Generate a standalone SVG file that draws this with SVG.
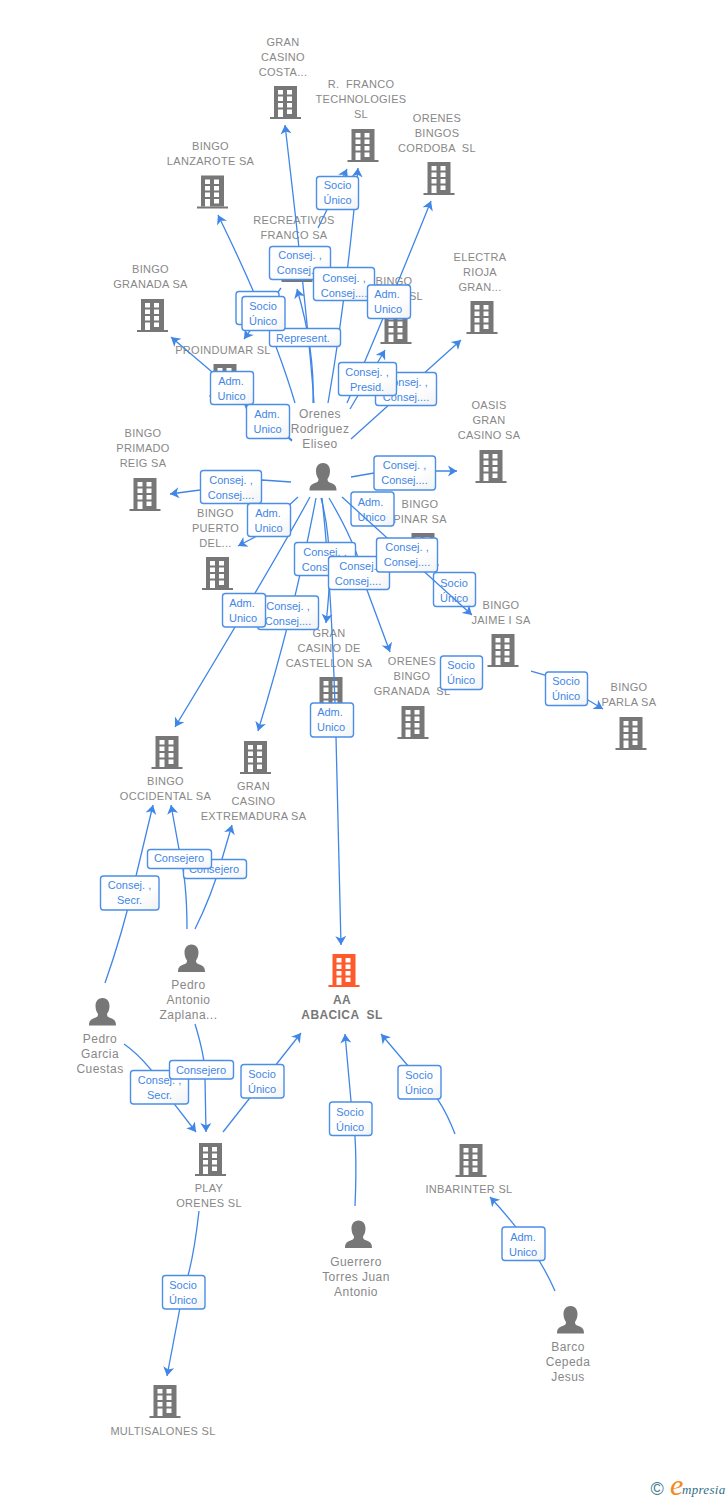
<svg xmlns="http://www.w3.org/2000/svg" width="728" height="1500" viewBox="0 0 728 1500">
<style>
text{font-family:"Liberation Sans",Arial,sans-serif;white-space:pre}
.n{font-size:11px;fill:#888;text-anchor:middle;letter-spacing:.3px}
.m{font-size:12px;font-weight:bold;fill:#777;letter-spacing:.4px}
.p{font-size:12px;fill:#888;text-anchor:middle;letter-spacing:.45px}
.e{fill:none;stroke:#3f86e6;stroke-width:1.3;marker-end:url(#a)}
.b{fill:url(#g);stroke:#4a8ee8;stroke-width:1.4}
.l{font-size:11px;fill:#3f86e6;text-anchor:middle}
</style>
<defs>
<linearGradient id="g" x1="0" y1="0" x2="1" y2="1"><stop offset="0" stop-color="#fff"/><stop offset=".6" stop-color="#fff"/><stop offset="1" stop-color="#f1f2f4"/></linearGradient>
<marker id="a" markerUnits="userSpaceOnUse" markerWidth="14" markerHeight="14" refX="10" refY="7" orient="auto"><path d="M10,7 L1,1.500 L3.500,7 L1,12.500 Z" fill="#3f86e6"/></marker>
<symbol id="bd" overflow="visible"><path fill-rule="evenodd" d="M-11.500,-33H11.500V-2H-11.500ZM-7.500,-29V-24.500H-2.500V-29ZM1.500,-29V-24.500H6.500V-29ZM-7.500,-22.500V-18H-2.500V-22.500ZM1.500,-22.500V-18H6.500V-22.500ZM-7.500,-16V-11.500H-2.500V-16ZM1.500,-16V-11.500H6.500V-16ZM-7.500,-9.500V-2H-2.500V-9.500ZM1.500,-9.500V-5H6.500V-9.500Z"/><rect x="-15.500" y="-2" width="31" height="2"/></symbol>
<symbol id="pr" overflow="visible"><path d="M0,0C-5,0 -7,4 -7,8C-7,11 -6,14 -4.500,16C-4.500,18 -5,19 -8,20C-12,21.500 -13.500,23 -13.500,27.500H13.500C13.500,23 12,21.500 8,20C5,19 4.500,18 4.500,16C6,14 7,11 7,8C7,4 5,0 0,0Z"/></symbol>
</defs>
<g id="nodes" fill="#777">
<g id="n-costa"><use href="#bd" x="285.500" y="119"/><text class="n" x="283" y="46">GRAN<tspan x="283" dy="15">CASINO</tspan><tspan x="283" dy="15">COSTA...</tspan></text></g>
<g id="n-franco"><use href="#bd" x="363" y="162"/><text class="n" x="361" y="88">R.  FRANCO<tspan x="361" dy="15">TECHNOLOGIES</tspan><tspan x="361" dy="15">SL</tspan></text></g>
<g id="n-cordoba"><use href="#bd" x="439" y="195"/><text class="n" x="437" y="122">ORENES<tspan x="437" dy="15">BINGOS</tspan><tspan x="437" dy="15">CORDOBA  SL</tspan></text></g>
<g id="n-lanzarote"><use href="#bd" x="212.500" y="208.500"/><text class="n" x="210.500" y="150">BINGO<tspan x="210.500" dy="15">LANZAROTE SA</tspan></text></g>
<g id="n-recreativos"><use href="#bd" x="297" y="282"/><text class="n" x="294" y="224">RECREATIVOS<tspan x="294" dy="15">FRANCO SA</tspan></text></g>
<g id="n-granada"><use href="#bd" x="152.500" y="332"/><text class="n" x="150.500" y="273">BINGO<tspan x="150.500" dy="15">GRANADA SA</tspan></text></g>
<g id="n-electra"><use href="#bd" x="482" y="334"/><text class="n" x="480" y="261">ELECTRA<tspan x="480" dy="15">RIOJA</tspan><tspan x="480" dy="15">GRAN...</tspan></text></g>
<g id="n-bingosl"><use href="#bd" x="396" y="344"/><text class="n" x="394" y="285">BINGO<tspan x="416" dy="15">SL</tspan></text></g>
<g id="n-proindumar"><use href="#bd" x="225" y="397"/><text class="n" x="223" y="354">PROINDUMAR SL</text></g>
<g id="n-oasis"><use href="#bd" x="491" y="483"/><text class="n" x="489" y="409">OASIS<tspan x="489" dy="15">GRAN</tspan><tspan x="489" dy="15">CASINO SA</tspan></text></g>
<g id="n-primado"><use href="#bd" x="145" y="511"/><text class="n" x="143" y="437">BINGO<tspan x="143" dy="15">PRIMADO</tspan><tspan x="143" dy="15">REIG SA</tspan></text></g>
<g id="n-puerto"><use href="#bd" x="217.500" y="590"/><text class="n" x="215.500" y="517">BINGO<tspan x="215.500" dy="15">PUERTO</tspan><tspan x="215.500" dy="15">DEL...</tspan></text></g>
<g id="n-pinar"><use href="#bd" x="423" y="566"/><text class="n" x="420" y="508">BINGO<tspan x="420" dy="15">PINAR SA</tspan></text></g>
<g id="n-jaime"><use href="#bd" x="503" y="667"/><text class="n" x="501" y="609">BINGO<tspan x="501" dy="15">JAIME I SA</tspan></text></g>
<g id="n-parla"><use href="#bd" x="631" y="750"/><text class="n" x="629" y="691">BINGO<tspan x="629" dy="15">PARLA SA</tspan></text></g>
<g id="n-castellon"><use href="#bd" x="331" y="710"/><text class="n" x="329" y="637">GRAN<tspan x="329" dy="15">CASINO DE</tspan><tspan x="329" dy="15">CASTELLON SA</tspan></text></g>
<g id="n-orenesgranada"><use href="#bd" x="413" y="739"/><text class="n" x="412" y="665">ORENES<tspan x="412" dy="15">BINGO</tspan><tspan x="412" dy="15">GRANADA  SL</tspan></text></g>
<g id="n-occidental"><use href="#bd" x="167" y="769"/><text class="n" x="165.500" y="785">BINGO<tspan x="165.500" dy="15">OCCIDENTAL SA</tspan></text></g>
<g id="n-extremadura"><use href="#bd" x="255.500" y="774"/><text class="n" x="253.500" y="790">GRAN<tspan x="253.500" dy="15">CASINO</tspan><tspan x="253.500" dy="15">EXTREMADURA SA</tspan></text></g>
<g id="n-aa"><use href="#bd" x="344" y="987" fill="#ff5a2b"/><text class="n m" x="342" y="1004">AA<tspan x="342" dy="15">ABACICA  SL</tspan></text></g>
<g id="n-play"><use href="#bd" x="210.500" y="1176"/><text class="n" x="209" y="1192">PLAY<tspan x="209" dy="15">ORENES SL</tspan></text></g>
<g id="n-inbarinter"><use href="#bd" x="471" y="1177"/><text class="n" x="469" y="1193">INBARINTER SL</text></g>
<g id="n-multisalones"><use href="#bd" x="165" y="1418"/><text class="n" x="163" y="1435">MULTISALONES SL</text></g>
<g id="n-orenes"><use href="#pr" x="323" y="463"/><text class="p" x="320" y="418">Orenes<tspan x="320" dy="15">Rodriguez</tspan><tspan x="320" dy="15">Eliseo</tspan></text></g>
<g id="n-zaplana"><use href="#pr" x="191.500" y="944.500"/><text class="p" x="188.500" y="989">Pedro<tspan x="188.500" dy="15">Antonio</tspan><tspan x="188.500" dy="15">Zaplana...</tspan></text></g>
<g id="n-cuestas"><use href="#pr" x="102.500" y="998"/><text class="p" x="100" y="1043">Pedro<tspan x="100" dy="15">Garcia</tspan><tspan x="100" dy="15">Cuestas</tspan></text></g>
<g id="n-guerrero"><use href="#pr" x="358.500" y="1220.500"/><text class="p" x="356" y="1266">Guerrero<tspan x="356" dy="15">Torres Juan</tspan><tspan x="356" dy="15">Antonio</tspan></text></g>
<g id="n-barco"><use href="#pr" x="570.500" y="1306"/><text class="p" x="568" y="1351">Barco<tspan x="568" dy="15">Cepeda</tspan><tspan x="568" dy="15">Jesus</tspan></text></g>
</g>
<g id="connectors">
<path class="e" d="M314,403Q309,330 285,125"/>
<path class="e" d="M318,228L347,169"/>
<path class="e" d="M328,403Q346,300 358,168"/>
<path class="e" d="M347,403Q383,320 431,201"/>
<path class="e" d="M351,439Q400,395 461,340"/>
<path class="e" d="M350,409L385,350"/>
<path class="e" d="M313,403Q315,350 297,289"/>
<path class="e" d="M295,403Q272,325 218,215"/>
<path class="e" d="M281,288L244,339"/>
<path class="e" d="M292,440L171,337"/>
<path class="e" d="M292,441L244,404"/>
<path class="e" d="M351,477L374,473L436,471L457,471"/>
<path class="e" d="M291,482L262,480L200,490L170,494"/>
<path class="e" d="M298,497L255,537L238,546"/>
<path class="e" d="M310,497Q270,570 175,727"/>
<path class="e" d="M316,498Q295,610 258,731"/>
<path class="e" d="M321,498Q335,550 326,623"/>
<path class="e" d="M322,498Q332,590 336,737L341,945"/>
<path class="e" d="M329,498Q360,550 367,590L390,652"/>
<path class="e" d="M531,671L545,675L588,700L603,709"/>
<path class="e" d="M105,983Q122,935 136,876L153,805"/>
<path class="e" d="M187,929Q187,880 179,849L171,805"/>
<path class="e" d="M195,929Q212,895 222,859L232,825"/>
<path class="e" d="M124,1044Q150,1062 175,1105L196,1132"/>
<path class="e" d="M195,1024Q206,1060 205,1079L206,1132"/>
<path class="e" d="M223,1132L301,1033"/>
<path class="e" d="M355,1206Q358,1140 351,1101L345,1034"/>
<path class="e" d="M455,1134Q440,1095 420,1080L381,1034"/>
<path class="e" d="M555,1291Q535,1245 490,1197"/>
<path class="e" d="M199,1211Q193,1265 183,1292L167,1376"/>
</g>
<g id="edge-labels">
<g><rect class="b" x="316.500" y="176.500" width="42" height="33" rx="3"/><text class="l" x="337.500" y="189">Socio<tspan x="337.500" dy="15">Único</tspan></text></g>
<g><rect class="b" x="269.500" y="246.500" width="61" height="33" rx="3"/><text class="l" x="300" y="259">Consej. ,<tspan x="300" dy="15">Consej....</tspan></text></g>
<g><rect class="b" x="313.500" y="267.500" width="61" height="33" rx="3"/><text class="l" x="344" y="282">Consej. ,<tspan x="344" dy="15">Consej....</tspan></text></g>
<g><rect class="b" x="367.500" y="285" width="43" height="33.500" rx="3"/><text class="l" x="387" y="298">Adm.<tspan x="388" dy="15">Unico</tspan></text></g>
<g><rect class="b" x="236" y="291.500" width="43" height="33" rx="3"/></g>
<g><rect class="b" x="269.500" y="328.500" width="71" height="18" rx="3"/><text class="l" x="303" y="342">Represent.</text></g>
<g><rect class="b" x="242" y="296.500" width="43" height="34" rx="3"/><text class="l" x="263" y="310">Socio<tspan x="263" dy="15">Único</tspan></text></g>
<g><rect class="b" x="375.500" y="372.500" width="61" height="33" rx="3"/><text class="l" x="406" y="386">Consej. ,<tspan x="406" dy="15">Consej....</tspan></text></g>
<g><rect class="b" x="338.500" y="362.500" width="58" height="33" rx="3"/><text class="l" x="367" y="376">Consej. ,<tspan x="367" dy="15">Presid.</tspan></text></g>
<g><rect class="b" x="210.500" y="371.500" width="43" height="33" rx="3"/><text class="l" x="231" y="385">Adm.<tspan x="231.500" dy="15">Unico</tspan></text></g>
<g><rect class="b" x="246.500" y="404.500" width="43" height="34" rx="3"/><text class="l" x="267" y="418">Adm.<tspan x="267.500" dy="15">Unico</tspan></text></g>
<g><rect class="b" x="374" y="456" width="61.500" height="34" rx="3"/><text class="l" x="404.500" y="469">Consej. ,<tspan x="404.500" dy="15">Consej....</tspan></text></g>
<g><rect class="b" x="200.500" y="470.500" width="61" height="33" rx="3"/><text class="l" x="231" y="484">Consej. ,<tspan x="231" dy="15">Consej....</tspan></text></g>
<g><rect class="b" x="247.500" y="503.500" width="43" height="33" rx="3"/><text class="l" x="268" y="517">Adm.<tspan x="268.500" dy="15">Unico</tspan></text></g>
<g><rect class="b" x="351" y="492" width="43" height="34" rx="3"/><text class="l" x="370.500" y="506">Adm.<tspan x="371.500" dy="15">Unico</tspan></text></g>
<g><rect class="b" x="294.500" y="542.500" width="61" height="33" rx="3"/><text class="l" x="325" y="556">Consej. ,<tspan x="325" dy="15">Consej....</tspan></text></g>
<g><rect class="b" x="328.500" y="556.500" width="61" height="33" rx="3"/><text class="l" x="358" y="570">Consej.<tspan x="358" dy="15">Consej....</tspan></text></g>
<g><rect class="b" x="433.500" y="572.500" width="42" height="34" rx="3"/><text class="l" x="454" y="587">Socio<tspan x="454" dy="15">Único</tspan></text></g>
<path class="e" d="M342,497L472,615"/>
<g><rect class="b" x="376.500" y="538" width="61" height="34" rx="3"/><text class="l" x="407" y="551">Consej. ,<tspan x="407" dy="15">Consej....</tspan></text></g>
<g><rect class="b" x="257.500" y="596" width="61" height="33.500" rx="3"/><text class="l" x="288" y="610">Consej. ,<tspan x="288" dy="15">Consej....</tspan></text></g>
<g><rect class="b" x="222.500" y="593.500" width="43" height="33.500" rx="3"/><text class="l" x="242" y="607">Adm.<tspan x="243" dy="15">Unico</tspan></text></g>
<g><rect class="b" x="440.500" y="656" width="42" height="33.500" rx="3"/><text class="l" x="461" y="669">Socio<tspan x="461" dy="15">Único</tspan></text></g>
<g><rect class="b" x="545.500" y="672" width="42" height="33.500" rx="3"/><text class="l" x="566" y="685">Socio<tspan x="566" dy="15">Único</tspan></text></g>
<g><rect class="b" x="310.500" y="703" width="43" height="34" rx="3"/><text class="l" x="330" y="716">Adm.<tspan x="331" dy="15">Unico</tspan></text></g>
<g><rect class="b" x="183.500" y="859.500" width="63" height="19" rx="3"/><text class="l" x="214" y="873">Consejero</text></g>
<g><rect class="b" x="147.500" y="849.500" width="64" height="19" rx="3"/><text class="l" x="179" y="862">Consejero</text></g>
<g><rect class="b" x="100.500" y="876" width="58.500" height="34" rx="3"/><text class="l" x="129.500" y="889">Consej. ,<tspan x="129.500" dy="15">Secr.</tspan></text></g>
<g><rect class="b" x="130.500" y="1070.500" width="58" height="33.500" rx="3"/><text class="l" x="159.500" y="1084">Consej. ,<tspan x="159.500" dy="15">Secr.</tspan></text></g>
<g><rect class="b" x="169.500" y="1060.500" width="64" height="18.500" rx="3"/><text class="l" x="201" y="1074">Consejero</text></g>
<g><rect class="b" x="241" y="1064.500" width="43" height="33.500" rx="3"/><text class="l" x="262" y="1078">Socio<tspan x="262" dy="15">Único</tspan></text></g>
<g><rect class="b" x="329.500" y="1102" width="42.500" height="33.500" rx="3"/><text class="l" x="350" y="1116">Socio<tspan x="350" dy="15">Único</tspan></text></g>
<g><rect class="b" x="398" y="1065.500" width="43" height="33.500" rx="3"/><text class="l" x="419" y="1079">Socio<tspan x="419" dy="15">Único</tspan></text></g>
<g><rect class="b" x="502" y="1227" width="43" height="33.500" rx="3"/><text class="l" x="523" y="1241">Adm.<tspan x="523" dy="15">Unico</tspan></text></g>
<g><rect class="b" x="162.500" y="1275.500" width="42.500" height="33.500" rx="3"/><text class="l" x="183" y="1289">Socio<tspan x="183" dy="15">Único</tspan></text></g>
</g>
<g id="logo">
<text x="650.500" y="1495" font-size="18" fill="#3f7d96">©</text>
<text x="670" y="1495" font-size="30" font-style="italic" fill="#f28a1e" style="font-family:'Liberation Serif',serif">e</text>
<text x="682" y="1494" font-size="13" font-style="italic" fill="#2f6f86" style="font-family:'Liberation Serif',serif" letter-spacing=".3">mpresia</text>
</g>
</svg>
